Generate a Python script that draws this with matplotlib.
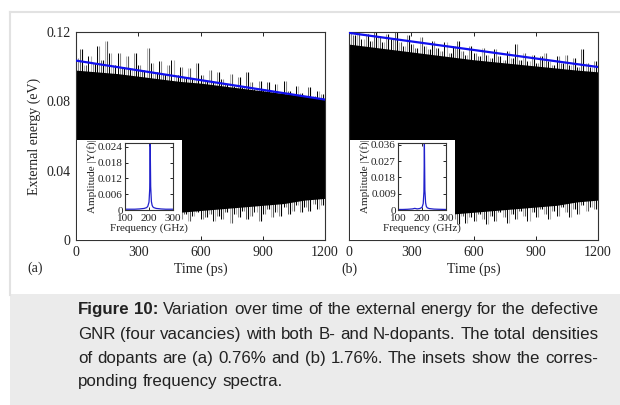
import matplotlib
matplotlib.use("Agg")
import matplotlib.pyplot as plt
from matplotlib.lines import Line2D
from matplotlib.patches import Rectangle

W, H = 620, 405

# ---- main signal (eV) ----
core_t = [0, 100, 200, 300, 400, 500, 600, 700, 800, 900, 1000, 1100, 1200]
core_top_a = [0.098, 0.097, 0.096, 0.0945, 0.093, 0.0915, 0.0905, 0.089, 0.0875, 0.086, 0.0845, 0.083, 0.0815]
core_bot_a = [0.030, 0.025, 0.022, 0.020, 0.018, 0.016, 0.017, 0.018, 0.019, 0.020, 0.021, 0.023, 0.024]
core_top_b = [0.113, 0.1115, 0.110, 0.1085, 0.107, 0.1055, 0.104, 0.1028, 0.1016, 0.1004, 0.0992, 0.098, 0.097]
core_bot_b = [0.025, 0.022, 0.020, 0.018, 0.016, 0.015, 0.016, 0.017, 0.018, 0.019, 0.020, 0.022, 0.023]

spike_t = list(range(10, 1200, 20))
upper_a = [0.105, 0.110, 0.101, 0.106, 0.102, 0.112, 0.104, 0.115, 0.108, 0.101,
           0.108, 0.100, 0.106, 0.099, 0.108, 0.101, 0.098, 0.111, 0.102, 0.097,
           0.103, 0.096, 0.101, 0.104, 0.095, 0.100, 0.094, 0.099, 0.093, 0.102,
           0.095, 0.092, 0.098, 0.091, 0.097, 0.093, 0.090, 0.096, 0.089, 0.094,
           0.088, 0.097, 0.091, 0.087, 0.092, 0.087, 0.091, 0.086, 0.090, 0.085,
           0.092, 0.086, 0.084, 0.089, 0.085, 0.083, 0.088, 0.083, 0.086, 0.084]
lower_a = [0.010, 0.015, 0.012, 0.018, 0.014, 0.011, 0.016, 0.013, 0.012, 0.017,
           0.014, 0.010, 0.015, 0.012, 0.016, 0.011, 0.014, 0.012, 0.017, 0.013,
           0.011, 0.015, 0.012, 0.014, 0.011, 0.012, 0.015, 0.011, 0.014, 0.016,
           0.012, 0.013, 0.015, 0.011, 0.014, 0.012, 0.016, 0.010, 0.015, 0.013,
           0.017, 0.012, 0.014, 0.016, 0.011, 0.015, 0.018, 0.013, 0.016, 0.014,
           0.019, 0.015, 0.017, 0.020, 0.016, 0.019, 0.017, 0.021, 0.018, 0.020]
upper_b = [0.120, 0.118, 0.121, 0.116, 0.119, 0.115, 0.121, 0.117, 0.114, 0.119,
           0.116, 0.120, 0.114, 0.112, 0.118, 0.113, 0.111, 0.117, 0.112, 0.110,
           0.115, 0.111, 0.109, 0.114, 0.108, 0.112, 0.115, 0.109, 0.107, 0.112,
           0.108, 0.106, 0.111, 0.107, 0.105, 0.110, 0.106, 0.104, 0.109, 0.105,
           0.113, 0.104, 0.108, 0.103, 0.107, 0.102, 0.106, 0.108, 0.103, 0.101,
           0.106, 0.102, 0.107, 0.101, 0.105, 0.100, 0.110, 0.102, 0.100, 0.103]
lower_b = [0.012, 0.016, 0.011, 0.014, 0.010, 0.015, 0.012, 0.009, 0.013, 0.011,
           0.014, 0.010, 0.012, 0.015, 0.009, 0.013, 0.011, 0.014, 0.008, 0.012,
           0.010, 0.013, 0.007, 0.011, 0.006, 0.012, 0.009, 0.014, 0.010, 0.013,
           0.011, 0.015, 0.012, 0.009, 0.014, 0.011, 0.016, 0.013, 0.010, 0.015,
           0.012, 0.017, 0.014, 0.011, 0.016, 0.013, 0.018, 0.015, 0.012, 0.017,
           0.014, 0.019, 0.016, 0.013, 0.018, 0.015, 0.020, 0.017, 0.019, 0.018]

trend_t = [0, 1200]
trend_a = [0.1035, 0.0810]
trend_b = [0.1195, 0.0998]

# ---- inset spectra ----
freq = [100, 120, 140, 160, 170, 180, 190, 195, 200, 203, 205, 207, 210, 213, 216, 220, 230, 250, 270, 300]
amp_a = [0.0003, 0.0003, 0.0003, 0.0004, 0.0005, 0.0006, 0.0009, 0.0014, 0.0030, 0.0080, 0.0252,
         0.0090, 0.0032, 0.0018, 0.0012, 0.0009, 0.0006, 0.0004, 0.0003, 0.0003]
freq_b = [100, 120, 140, 160, 170, 180, 190, 200, 205, 208, 210, 212, 215, 218, 222, 230, 250, 270, 300]
amp_b = [0.0003, 0.0003, 0.0004, 0.0006, 0.0009, 0.0006, 0.0008, 0.0014, 0.0035, 0.0100, 0.0365,
         0.0110, 0.0040, 0.0020, 0.0012, 0.0008, 0.0005, 0.0004, 0.0003]

xticks_main = [0, 300, 600, 900, 1200]
yticks_main = [0, 0.04, 0.08, 0.12]
ytick_labels_main = ["0", "0.04", "0.08", "0.12"]
inset_xticks = [100, 200, 300]
inset_yticks_a = [0, 0.006, 0.012, 0.018, 0.024]
inset_ylabels_a = ["0", "0.006", "0.012", "0.018", "0.024"]
inset_yticks_b = [0, 0.009, 0.018, 0.027, 0.036]
inset_ylabels_b = ["0", "0.009", "0.018", "0.027", "0.036"]

caption_lines = [
    "Figure 10: Variation over time of the external energy for the defective",
    "GNR (four vacancies) with both B- and N-dopants. The total densities",
    "of dopants are (a) 0.76% and (b) 1.76%. The insets show the corres-",
    "ponding frequency spectra.",
]

SERIF = "Liberation Serif"
SANS = "Liberation Sans"
CAP_SIZE = 12.2


def rect(left, top, right, bottom):
    return [left / W, 1 - bottom / H, (right - left) / W, (bottom - top) / H]


def style_axes(ax, size):
    for s in ax.spines.values():
        s.set_linewidth(0.8)
        s.set_color("#333333")
    ax.tick_params(direction="in", length=3, width=0.7, top=True, right=True,
                   labelsize=size, colors="#222222", pad=4)
    for lbl in ax.get_xticklabels() + ax.get_yticklabels():
        lbl.set_family(SERIF)


def draw_panel(ax, top, bot, up, low, trend, show_y):
    # spikes sit behind the dense core of the oscillation
    cols = (["0.55", "black", "0.35", "0.7", "black"] * 12)[:len(spike_t)]
    nxt_t = [t + 10 for t in spike_t[:-1]]
    ax.vlines(spike_t, 0.06, up, colors=cols, lw=0.8, zorder=1)
    ax.vlines(nxt_t, 0.06, up[1:], colors=cols[2:] + cols[:1], lw=0.7, zorder=1)
    ax.vlines(spike_t, 0.06, low, colors=cols, lw=0.8, zorder=1)
    ax.vlines(nxt_t, 0.06, low[1:], colors=cols[2:] + cols[:1], lw=0.7, zorder=1)
    ax.fill_between(core_t, bot, top, color="black", lw=0, zorder=2)
    ax.plot(trend_t, trend, color="#1010ee", lw=1.6, zorder=3)
    ax.set_xlim(0, 1200)
    ax.set_ylim(0, 0.12)
    ax.set_xticks(xticks_main)
    ax.set_yticks(yticks_main)
    ax.set_yticklabels(ytick_labels_main if show_y else [])
    style_axes(ax, 10)
    ax.set_xlabel("Time (ps)", family=SERIF, fontsize=10, color="#222222", labelpad=3)


def draw_inset(box_r, ax_r, f, a, yticks, ylabels, ytop):
    box = fig.add_axes(rect(*box_r))
    box.set_facecolor("white")
    box.set_xticks([])
    box.set_yticks([])
    for s in box.spines.values():
        s.set_visible(False)
    ins = fig.add_axes(rect(*ax_r))
    ins.plot(f, a, color="#2020cc", lw=0.9)
    ins.set_xlim(100, 300)
    ins.set_ylim(0, ytop)
    ins.set_xticks(inset_xticks)
    ins.set_yticks(yticks)
    ins.set_yticklabels(ylabels)
    style_axes(ins, 8)
    ins.tick_params(length=2, pad=1.5)
    ins.tick_params(axis="x", pad=3)
    ins.set_xlabel("Frequency (GHz)", family=SERIF, fontsize=8, color="#222222", labelpad=0)
    ins.set_ylabel("Amplitude |Y(f)|", family=SERIF, fontsize=8, color="#222222", labelpad=0.5)


fig = plt.figure(figsize=(W / 100, H / 100), dpi=100)
fig.patch.set_facecolor("white")

# page frame and caption box
fig.add_artist(Line2D([10 / W, 1], [1 - 12 / H, 1 - 12 / H], color="#e2e2e2", lw=1.5))
fig.add_artist(Line2D([10 / W, 10 / W], [1 - 12 / H, 1 - 295 / H], color="#e2e2e2", lw=1.5))
fig.add_artist(Rectangle((10 / W, 0), 1 - 10 / W, 1 - 294 / H, transform=fig.transFigure,
                         facecolor="#ebebeb", edgecolor="none"))

ax_a = fig.add_axes(rect(76, 32, 325, 240))
draw_panel(ax_a, core_top_a, core_bot_a, upper_a, lower_a, trend_a, True)
ax_a.set_ylabel("External energy (eV)", family=SERIF, fontsize=10, color="#222222", labelpad=4)

ax_b = fig.add_axes(rect(349, 32, 598, 240))
draw_panel(ax_b, core_top_b, core_bot_b, upper_b, lower_b, trend_b, False)

draw_inset((77, 140, 182, 239.5), (125, 143, 173, 210), freq, amp_a,
           inset_yticks_a, inset_ylabels_a, 0.0255)
draw_inset((350, 140, 455, 239.5), (398, 143, 446, 210), freq_b, amp_b,
           inset_yticks_b, inset_ylabels_b, 0.037)

fig.text(35 / W, 1 - 268 / H, "(a)", family=SERIF, fontsize=10, ha="center", va="center", color="#222222")
fig.text(349 / W, 1 - 269 / H, "(b)", family=SERIF, fontsize=10, ha="center", va="center", color="#222222")

# caption, justified between x=78 and x=598 like the source page
cap_left, cap_right = 78, 598
line_base = [314, 339, 363, 386]
renderer = fig.canvas.get_renderer()
space = fig.text(0, 0, "a a", family=SANS, fontsize=CAP_SIZE)
no_space = fig.text(0, 0, "aa", family=SANS, fontsize=CAP_SIZE)
space_w = space.get_window_extent(renderer).width - no_space.get_window_extent(renderer).width
space.remove()
no_space.remove()

for i, (y, line) in enumerate(zip(line_base, caption_lines)):
    words = line.split(" ")
    texts = []
    for j, w in enumerate(words):
        bold = i == 0 and j < 2
        t = fig.text(0, 1 - y / H, w, family=SANS, fontsize=CAP_SIZE,
                     weight="bold" if bold else "normal", va="baseline", ha="left", color="#222222")
        texts.append(t)
    widths = [t.get_window_extent(renderer).width for t in texts]
    if i < len(caption_lines) - 1:
        gap = max((cap_right - cap_left - sum(widths)) / (len(words) - 1), 0.6 * space_w)
    else:
        gap = space_w
    x = cap_left
    for t, wd in zip(texts, widths):
        t.set_x(x / W)
        x += wd + gap

fig.savefig("out.png", dpi=100)
